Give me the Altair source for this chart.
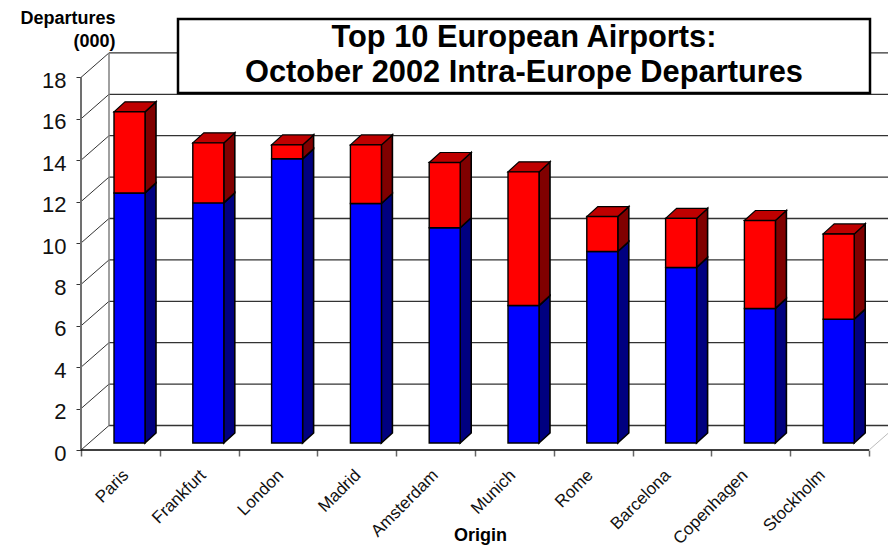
import altair as alt
import pandas as pd

airports = ["Paris", "Frankfurt", "London", "Madrid", "Amsterdam", "Munich", "Rome", "Barcelona", "Copenhagen", "Stockholm"]
lower = [12.08, 11.6, 13.73, 11.57, 10.4, 6.64, 9.25, 8.48, 6.5, 5.98]
total = [16.0, 14.5, 14.4, 14.4, 13.55, 13.1, 10.94, 10.85, 10.75, 10.1]
y_ticks = [0, 2, 4, 6, 8, 10, 12, 14, 16, 18]
title_lines = ["Top 10 European Airports:", "October 2002 Intra-Europe Departures"]

PX_X = 78.8
PX_Y = 20.7
WIDTH = 807
HEIGHT = 442
SANS = "Liberation Sans"

xs = alt.Scale(domain=[0, WIDTH / PX_X], nice=False, zero=False)
ys = alt.Scale(domain=[0, HEIGHT / PX_Y], nice=False, zero=False)
X = lambda f="x": alt.X(f"{f}:Q", scale=xs, axis=None, title=None)
Y = lambda f="y": alt.Y(f"{f}:Q", scale=ys, axis=None, title=None)

WALL_DX, WALL_DY = 28 / PX_X, 24.5 / PX_Y
FRONT_DX, BAR_W = 33 / PX_X, 31 / PX_X
FRONT_DY = 7 / PX_Y
BAR_DX, BAR_DY = 11 / PX_X, 10 / PX_Y

n = len(airports)

# walls
back = pd.DataFrame({"x": WALL_DX, "x2": WIDTH / PX_X, "y": [v + WALL_DY for v in y_ticks]})
diag = pd.DataFrame(
    [{"id": v, "x": 0, "y": v} for v in y_ticks] + [{"id": v, "x": WALL_DX, "y": v + WALL_DY} for v in y_ticks]
)
axis_layer = alt.Chart(pd.DataFrame({"x": [0], "y": [0]})).mark_point(opacity=0).encode(
    x=alt.X("x:Q", scale=xs, title="Origin", axis=alt.Axis(
        values=list(range(n + 1)), labels=False, domain=False, grid=False, tickColor="#666666", tickWidth=1.5, tickSize=6,
        titleFont=SANS, titleFontWeight="bold", titleFontSize=18, titleColor="black", titleX=399, titleY=85, titleAlign="center", titleBaseline="middle")),
    y=alt.Y("y:Q", scale=ys, title=["Departures", "(000)"], axis=alt.Axis(
        values=y_ticks, format="d", domain=False, grid=False, tickColor="#333333", tickWidth=1, tickSize=5,
        labelFont=SANS, labelFontSize=22, labelColor="#111111", labelPadding=10, labelOffset=3,
        titleFont=SANS, titleFontWeight="bold", titleFontSize=18, titleColor="black", titleAngle=0,
        titleAlign="right", titleBaseline="middle", titleX=34, titleY=10, titleLineHeight=23)),
)
back_rules = alt.Chart(back).mark_rule(color="#333333", strokeWidth=1.3).encode(x=X(), x2="x2:Q", y=Y())
diag_lines = alt.Chart(diag).mark_line(color="#333333", strokeWidth=1).encode(x=X(), y=Y(), detail="id:N")
wall_v = alt.Chart(pd.DataFrame({"x": [WALL_DX], "y": [WALL_DY], "y2": [18 + WALL_DY]})).mark_rule(
    color="#808080", strokeWidth=1.5).encode(x=X(), y=Y(), y2="y2:Q")
axis_v = alt.Chart(pd.DataFrame({"x": [0], "y": [0], "y2": [18]})).mark_rule(
    color="#707070", strokeWidth=2).encode(x=X(), y=Y(), y2="y2:Q")
floor_right = alt.Chart(pd.DataFrame({"x": [n, n + WALL_DX], "y": [0, WALL_DY]})).mark_line(
    color="#bbbbbb", strokeWidth=1).encode(x=X(), y=Y())
axis_h = alt.Chart(pd.DataFrame({"x": [0], "x2": [n], "y": [0]})).mark_rule(
    color="black", strokeWidth=1.5).encode(x=X(), x2="x2:Q", y=Y())

# bars
fronts, sides, tops = [], [], []
for i, (a, lo, t) in enumerate(zip(airports, lower, total)):
    x0 = i + FRONT_DX
    x1 = x0 + BAR_W
    for col, dark, b0, b1 in (("#0000FF", "#000080", 0, lo), ("#FF0000", "#800000", lo, t)):
        fronts.append({"col": col, "x": x0, "x2": x1, "y": b0 + FRONT_DY, "y2": b1 + FRONT_DY})
        for px, off in ((x1, 0), (x1 + BAR_DX, BAR_DY)):
            sides.append({"id": f"{a}-{col}", "col": dark, "x": px,
                          "y": b0 + FRONT_DY + off, "y2": b1 + FRONT_DY + off})
    top = t + FRONT_DY
    for px, y1, y2 in ((x0, top, top), (x0 + BAR_DX, top, top + BAR_DY),
                       (x1, top, top + BAR_DY), (x1 + BAR_DX, top + BAR_DY, top + BAR_DY)):
        tops.append({"id": a, "x": px, "y": y1, "y2": y2})

side_layer = alt.Chart(pd.DataFrame(sides)).mark_area(stroke="black", strokeWidth=1.6, opacity=1).encode(
    x=X(), y=Y(), y2="y2:Q", detail="id:N", fill=alt.Fill("col:N", scale=None))
top_layer = alt.Chart(pd.DataFrame(tops)).mark_area(stroke="black", strokeWidth=1.2, fill="#BF0000", opacity=1).encode(
    x=X(), y=Y(), y2="y2:Q", detail="id:N")
front_layer = alt.Chart(pd.DataFrame(fronts)).mark_rect(stroke="black", strokeWidth=1.4).encode(
    x=X(), x2="x2:Q", y=Y(), y2="y2:Q", fill=alt.Fill("col:N", scale=None))

# rotated category labels
labels = pd.DataFrame({"x": [(45 + 77.4 * i) / PX_X for i in range(n)], "y": -1.1, "t": airports})
label_layer = alt.Chart(labels).mark_text(
    font=SANS, fontSize=17, angle=315, align="right", baseline="middle", color="#111111"
).encode(x=X(), y=Y(), text="t:N")

# title box
box = alt.Chart(pd.DataFrame({"a": [1]})).mark_rect(fill="white", stroke="black", strokeWidth=2.5).encode(
    x=alt.value(97), x2=alt.value(789), y=alt.value(11), y2=alt.value(85))
t1 = alt.Chart(pd.DataFrame({"t": [title_lines[0]]})).mark_text(
    font=SANS, fontWeight="bold", fontSize=30.8, color="black", baseline="middle").encode(
    x=alt.value(443), y=alt.value(30), text="t:N")
t2 = alt.Chart(pd.DataFrame({"t": [title_lines[1]]})).mark_text(
    font=SANS, fontWeight="bold", fontSize=30.8, color="black", baseline="middle").encode(
    x=alt.value(443), y=alt.value(65), text="t:N")

chart = alt.layer(
    axis_layer, back_rules, diag_lines, wall_v, axis_v, floor_right, axis_h,
    side_layer, top_layer, front_layer, label_layer, box, t1, t2,
).resolve_axis(x="independent", y="independent").properties(
    width=WIDTH, height=HEIGHT, autosize="none",
    padding={"left": 73, "top": 0, "right": 0, "bottom": 99},
    background="white",
).configure_view(stroke=None)

chart.save("out.html", embed_options={"renderer": "svg", "actions": False})
